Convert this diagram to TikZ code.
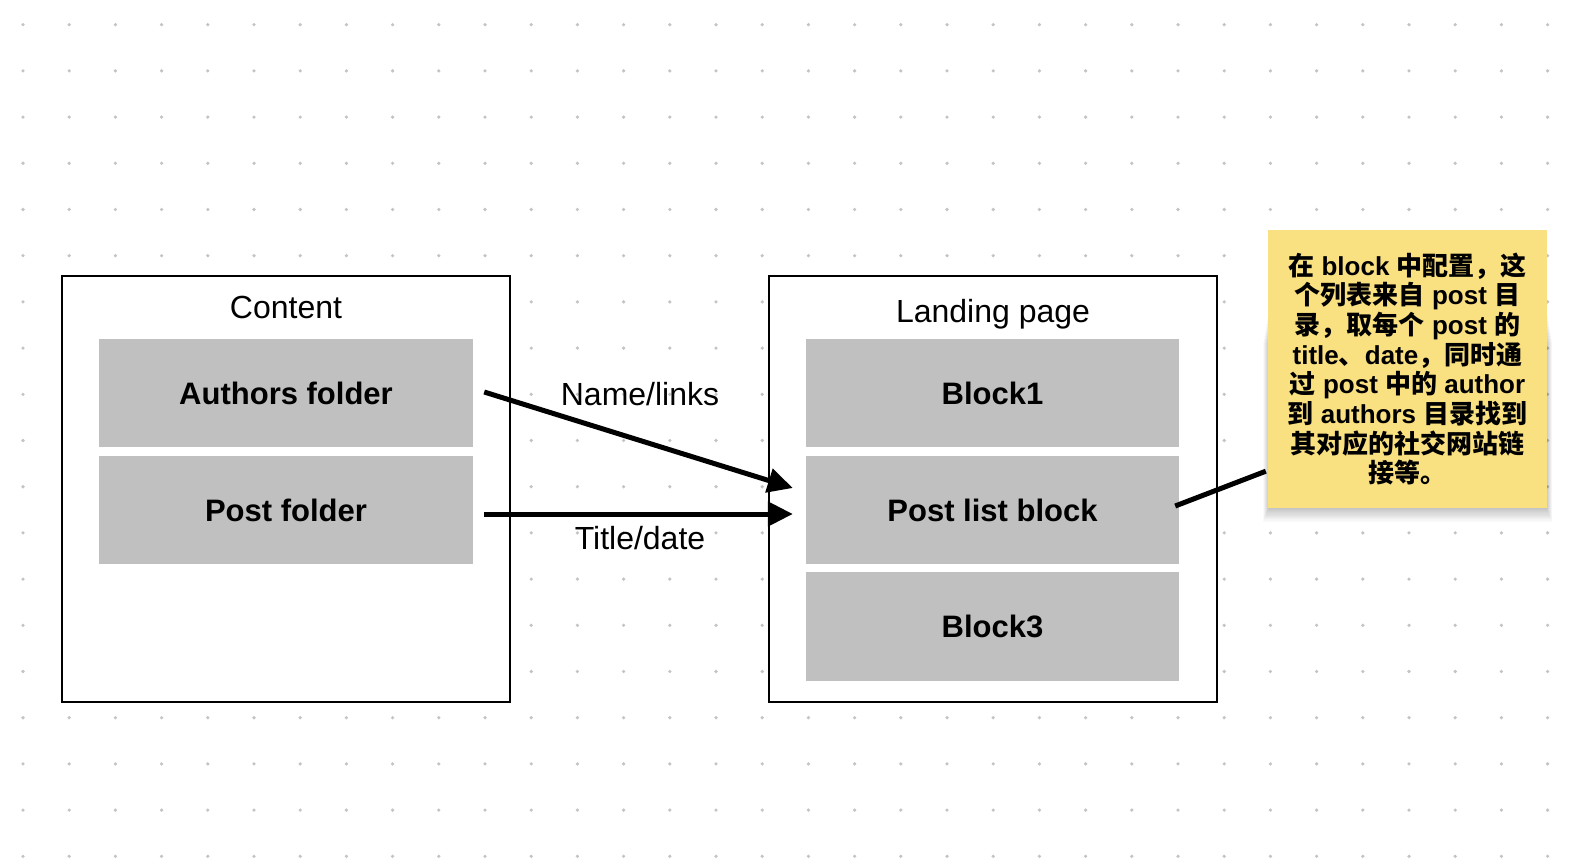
\documentclass[tikz,border=0pt]{standalone}
\usepackage{fontspec}
\setmainfont{Liberation Sans}
\newfontfamily\cjk{Noto Sans CJK SC Medium}
\usetikzlibrary{arrows.meta,calc}
\definecolor{boxgray}{RGB}{192,192,192}
\definecolor{dotgray}{RGB}{196,196,196}
\definecolor{notey}{RGB}{249,224,128}
\newcommand\zh[1]{{\cjk #1}}
\begin{document}
\begin{tikzpicture}[x=1pt,y=-1pt,
  frame/.style={draw=black,line width=2pt,fill=white,inner sep=0pt,minimum width=448pt,minimum height=426pt},
  block/.style={fill=boxgray,inner sep=0pt,minimum width=374pt,minimum height=108pt,font=\fontsize{31}{37}\selectfont\bfseries},
  title/.style={anchor=base,inner sep=0pt,font=\fontsize{32}{38}\selectfont},
  flow/.style={line width=5pt,-{Triangle[length=25pt,width=24pt]}},
  link/.style={line width=5pt},
  note/.style={fill=notey,inner sep=0pt,minimum width=279pt,minimum height=278pt},
  notetext/.style={align=center,inner sep=0pt,font=\fontsize{26}{29.7}\selectfont\bfseries}]
\fill[white] (0,0) rectangle (1578,866);
\useasboundingbox (0,0) rectangle (1578,866);
% dot grid
\foreach \i in {0,...,33}
  \foreach \j in {0,...,18}
    \fill[dotgray] (23+46.2*\i, 24.7+46.2*\j) circle (1.8);
% frames
\node[frame] (content) at (286,489) {};
\node[frame] (landing) at (993,489) {};
\node[title] (contenttitle) at (286,319) {Content};
\node[title] (landingtitle) at (993,322.7) {Landing page};
% blocks
\node[block] (authors) at (286,393) {Authors folder};
\node[block] (postfolder) at (286,510) {Post folder};
\node[block,minimum width=373pt] (block1) at (992.5,393) {Block1};
\node[block,minimum width=373pt] (postlist) at (992.5,510) {Post list block};
\node[block,minimum width=373pt,minimum height=109pt] (block3) at (992.5,626.5) {Block3};
% arrows
\draw[flow] ($(authors.east)+(11,-1)$) -- ($(postlist.west)+(-13,-22)$);
\draw[flow] ($(postfolder.east)+(11,4)$) -- ($(postlist.west)+(-13,4)$);
\node[title] (namelinks) at (640,405) {Name/links};
\node[title] (titledate) at (640,549) {Title/date};
% sticky note with shadow
\foreach \k in {1,...,14}
  \fill[black,opacity=0.018] (1270-0.5*\k, 300+3*\k) rectangle (1545+0.5*\k, 505+1.2*\k);
\node[note] (note) at (1407.5,369) {};
\node[notetext] (notetxt) at (note.center) {%
\zh{在} block \zh{中配置，这}\\
\zh{个列表来自} post \zh{目}\\
\zh{录，取每个} post \zh{的}\\
title\zh{、}date\zh{，同时通}\\
\zh{过} post \zh{中的} author\\
\zh{到} authors \zh{目录找到}\\
\zh{其对应的社交网站链}\\
\zh{接等。}};
\draw[link] ($(postlist.east)+(-4,-4)$) -- ($(note.south west)+(-2,-37)$);
\end{tikzpicture}
\end{document}
